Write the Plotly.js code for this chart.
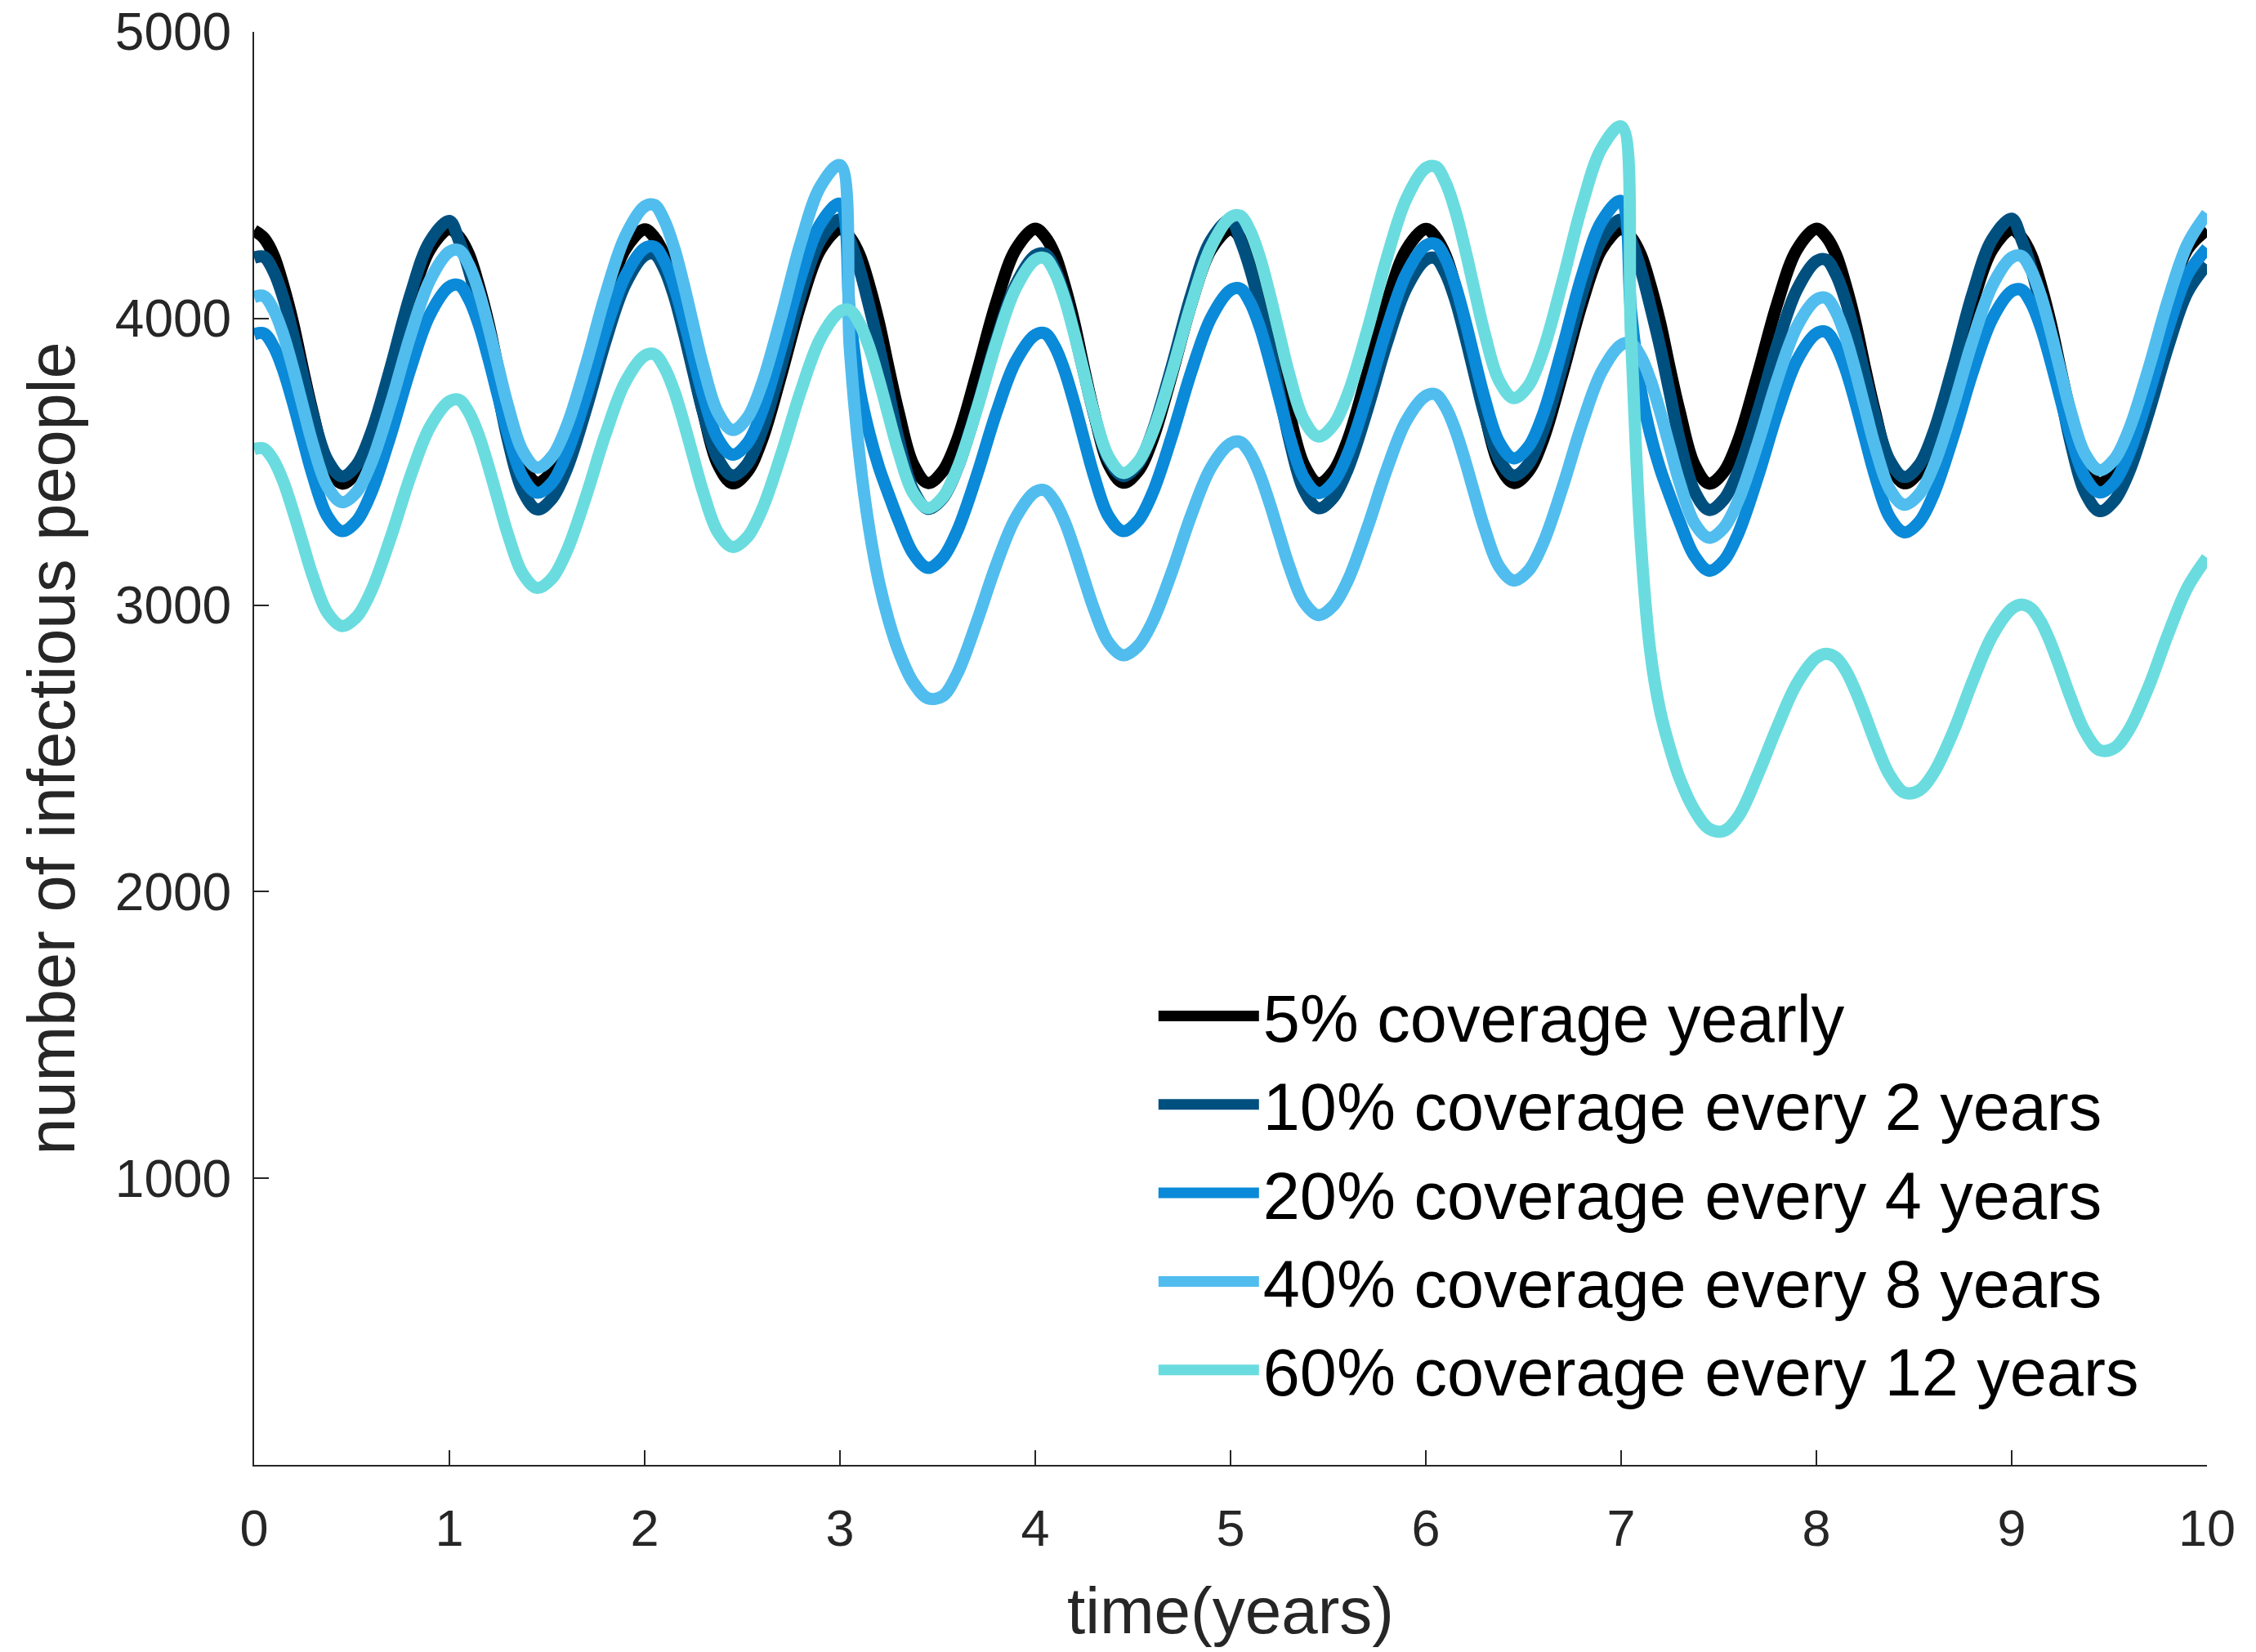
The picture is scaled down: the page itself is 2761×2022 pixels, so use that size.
<!DOCTYPE html>
<html>
<head>
<meta charset="utf-8">
<script src="https://cdn.plot.ly/plotly-3.0.1.min.js"></script>
<style>
html, body { margin: 0; padding: 0; background: #ffffff; }
#chart { width: 2761px; height: 2022px; }
</style>
</head>
<body>
<div id="chart"></div>
<script>
// sampling offsets inside each year (years)
const yearOffsets = [0, 0.05, 0.1, 0.15, 0.2, 0.25, 0.3, 0.375, 0.45, 0.525, 0.6, 0.7, 0.8, 0.9];
const years = [0, 1, 2, 3, 4, 5, 6, 7, 8, 9];

const seriesNames = [
  "5% coverage yearly",
  "10% coverage every 2 years",
  "20% coverage every 4 years",
  "40% coverage every 8 years",
  "60% coverage every 12 years"
];

// number of infectious people (one row per year, last value at t = 10)
const black = [
  4307, 4281, 4220, 4113, 3982, 3822, 3672, 3490, 3424, 3464, 3575, 3806, 4053, 4240,
  4312, 4284, 4223, 4116, 3984, 3824, 3674, 3492, 3427, 3466, 3576, 3807, 4054, 4241,
  4311, 4283, 4222, 4115, 3983, 3823, 3673, 3491, 3425, 3465, 3575, 3806, 4053, 4240,
  4312, 4284, 4222, 4115, 3983, 3823, 3673, 3491, 3426, 3466, 3576, 3807, 4054, 4241,
  4313, 4285, 4223, 4116, 3984, 3824, 3674, 3492, 3427, 3466, 3576, 3806, 4053, 4240,
  4311, 4283, 4222, 4115, 3983, 3823, 3673, 3491, 3425, 3465, 3575, 3806, 4053, 4240,
  4312, 4284, 4222, 4115, 3983, 3823, 3673, 3491, 3426, 3466, 3576, 3807, 4054, 4241,
  4312, 4284, 4223, 4116, 3984, 3823, 3674, 3490, 3424, 3464, 3575, 3806, 4053, 4240,
  4313, 4285, 4223, 4116, 3984, 3824, 3674, 3491, 3425, 3465, 3575, 3806, 4053, 4240,
  4311, 4283, 4222, 4115, 3983, 3823, 3673, 3491, 3425, 3465, 3576, 3807, 4054, 4241,
  4310
];
const navy = [
  4212, 4215, 4164, 4071, 3945, 3804, 3666, 3507, 3449, 3489, 3603, 3832, 4082, 4269,
  4340, 4270, 4169, 4038, 3897, 3736, 3575, 3399, 3334, 3371, 3473, 3684, 3922, 4118,
  4220, 4225, 4173, 4080, 3952, 3810, 3671, 3511, 3452, 3492, 3606, 3836, 4086, 4274,
  4345, 4274, 4173, 4042, 3901, 3740, 3578, 3402, 3336, 3372, 3475, 3685, 3923, 4118,
  4220, 4225, 4173, 4079, 3951, 3809, 3669, 3509, 3450, 3490, 3605, 3835, 4085, 4273,
  4345, 4274, 4174, 4043, 3902, 3741, 3580, 3403, 3338, 3374, 3474, 3681, 3914, 4105,
  4205, 4210, 4159, 4067, 3942, 3803, 3667, 3510, 3452, 3492, 3606, 3836, 4086, 4274,
  4345, 4274, 4173, 4041, 3899, 3737, 3575, 3398, 3332, 3368, 3468, 3675, 3908, 4100,
  4200, 4205, 4154, 4062, 3937, 3798, 3662, 3505, 3447, 3488, 3603, 3834, 4087, 4276,
  4348, 4277, 4175, 4042, 3899, 3736, 3573, 3394, 3328, 3364, 3463, 3669, 3900, 4091,
  4188
];
const blue = [
  3945, 3948, 3902, 3818, 3704, 3577, 3453, 3310, 3258, 3293, 3392, 3595, 3824, 4013,
  4111, 4116, 4067, 3980, 3860, 3727, 3597, 3447, 3392, 3427, 3526, 3729, 3958, 4147,
  4245, 4250, 4201, 4114, 3994, 3861, 3730, 3580, 3525, 3564, 3674, 3901, 4146, 4330,
  4400, 4020, 3755, 3600, 3480, 3385, 3295, 3180, 3130, 3164, 3258, 3451, 3670, 3850,
  3943, 3948, 3902, 3818, 3704, 3577, 3453, 3310, 3258, 3293, 3390, 3590, 3816, 4002,
  4099, 4104, 4056, 3970, 3852, 3721, 3593, 3445, 3391, 3427, 3527, 3733, 3965, 4156,
  4255, 4260, 4210, 4119, 3996, 3858, 3724, 3569, 3512, 3552, 3665, 3898, 4150, 4338,
  4410, 4030, 3755, 3595, 3475, 3380, 3290, 3172, 3120, 3154, 3250, 3447, 3670, 3853,
  3948, 3953, 3906, 3822, 3706, 3578, 3452, 3307, 3254, 3289, 3386, 3586, 3812, 3998,
  4095, 4100, 4053, 3967, 3850, 3720, 3593, 3447, 3393, 3428, 3527, 3732, 3962, 4152,
  4245
];
const lightBlue = [
  4075, 4078, 4030, 3943, 3824, 3692, 3562, 3414, 3359, 3395, 3496, 3704, 3939, 4133,
  4233, 4238, 4187, 4095, 3970, 3831, 3695, 3538, 3480, 3518, 3623, 3840, 4085, 4286,
  4391, 4396, 4343, 4248, 4119, 3974, 3833, 3671, 3611, 3653, 3771, 4008, 4267, 4461,
  4535, 3900, 3520, 3265, 3080, 2945, 2840, 2730, 2675, 2682, 2760, 2940, 3140, 3305,
  3395, 3400, 3361, 3292, 3197, 3091, 2988, 2869, 2825, 2856, 2941, 3117, 3316, 3480,
  3564, 3569, 3529, 3455, 3356, 3245, 3136, 3011, 2965, 2997, 3085, 3268, 3473, 3643,
  3730, 3735, 3692, 3613, 3506, 3386, 3270, 3135, 3086, 3120, 3215, 3411, 3632, 3814,
  3908, 3913, 3868, 3786, 3674, 3549, 3427, 3287, 3235, 3269, 3365, 3564, 3787, 3971,
  4066, 4071, 4023, 3935, 3816, 3684, 3554, 3405, 3350, 3386, 3485, 3691, 3923, 4114,
  4213, 4218, 4168, 4078, 3954, 3817, 3682, 3528, 3471, 3508, 3611, 3823, 4062, 4259,
  4366
];
const cyan = [
  3544, 3546, 3505, 3430, 3327, 3214, 3102, 2974, 2927, 2959, 3050, 3237, 3448, 3621,
  3711, 3716, 3672, 3593, 3484, 3364, 3246, 3110, 3060, 3093, 3187, 3380, 3598, 3777,
  3870, 3875, 3830, 3749, 3638, 3514, 3393, 3254, 3203, 3237, 3332, 3528, 3748, 3930,
  4024, 4029, 3983, 3899, 3785, 3658, 3534, 3391, 3339, 3375, 3475, 3681, 3914, 4105,
  4205, 4210, 4160, 4069, 3946, 3808, 3673, 3518, 3461, 3498, 3601, 3814, 4053, 4250,
  4353, 4358, 4306, 4213, 4086, 3945, 3806, 3647, 3588, 3627, 3735, 3958, 4210, 4417,
  4525, 4530, 4476, 4378, 4245, 4096, 3951, 3783, 3722, 3765, 3886, 4130, 4395, 4594,
  4670, 3950, 3230, 2835, 2630, 2500, 2395, 2285, 2220, 2212, 2262, 2408, 2576, 2726,
  2816, 2830, 2817, 2772, 2701, 2615, 2524, 2407, 2346, 2353, 2414, 2557, 2734, 2892,
  2987, 3002, 2988, 2941, 2867, 2776, 2681, 2559, 2494, 2501, 2564, 2713, 2897, 3061,
  3165
];

const xTickVals = [0, 1, 2, 3, 4, 5, 6, 7, 8, 9, 10];
const xTickText = ["0", "1", "2", "3", "4", "5", "6", "7", "8", "9", "10"];
const yTickVals = [1000, 2000, 3000, 4000, 5000];
const yTickText = ["1000", "2000", "3000", "4000", "5000"];

// time grid
const time = [];
years.forEach(k => yearOffsets.forEach(o => time.push(+(k + o).toFixed(3))));
time.push(10);

const colors = ["#000000", "#00507f", "#0a8ad8", "#50bdee", "#6adcdf"];
const allSeries = [black, navy, blue, lightBlue, cyan];

const traces = allSeries.map((ys, i) => ({
  type: "scatter",
  mode: "lines",
  x: time,
  y: ys,
  name: seriesNames[i],
  line: { color: colors[i], width: 15, shape: "spline", smoothing: 1 },
  hoverinfo: "skip"
}));

const font = "Liberation Sans, Arial, Helvetica, sans-serif";
const axisColor = "#262626";

const layout = {
  width: 2761,
  height: 2022,
  paper_bgcolor: "#ffffff",
  plot_bgcolor: "#ffffff",
  margin: { l: 311, r: 60, t: 39, b: 229, pad: 0 },
  showlegend: true,
  legend: {
    x: 0.461, xanchor: "left",
    y: 0.347, yanchor: "top",
    bgcolor: "rgba(0,0,0,0)",
    borderwidth: 0,
    font: { family: font, size: 81, color: "#000000" },
    itemwidth: 123,
    tracegroupgap: 0
  },
  xaxis: {
    range: [0, 10],
    tickmode: "array",
    tickvals: xTickVals,
    ticktext: xTickText,
    ticks: "inside",
    ticklen: 18,
    tickwidth: 2,
    tickcolor: axisColor,
    showline: true,
    linecolor: axisColor,
    linewidth: 2,
    mirror: false,
    showgrid: false,
    zeroline: false,
    ticklabelstandoff: 21,
    tickfont: { family: font, size: 63, color: axisColor },
    title: { text: "time(years)", font: { family: font, size: 80, color: axisColor }, standoff: 39 }
  },
  yaxis: {
    range: [0, 5000],
    tickmode: "array",
    tickvals: yTickVals,
    ticktext: yTickText,
    ticks: "inside",
    ticklen: 18,
    tickwidth: 2,
    tickcolor: axisColor,
    showline: true,
    linecolor: axisColor,
    linewidth: 2,
    mirror: false,
    showgrid: false,
    zeroline: false,
    ticklabelstandoff: 13,
    tickfont: { family: font, size: 64, color: axisColor },
    title: { text: "number of infectious people", font: { family: font, size: 81, color: axisColor }, standoff: 22 }
  }
};

Plotly.newPlot("chart", traces, layout, { displayModeBar: false, staticPlot: true }).then(() => {
  // thicker legend samples, as in the original figure
  document.querySelectorAll("#chart .legendlines path").forEach(p => {
    p.style.strokeWidth = "13px";
  });
});
</script>
</body>
</html>
